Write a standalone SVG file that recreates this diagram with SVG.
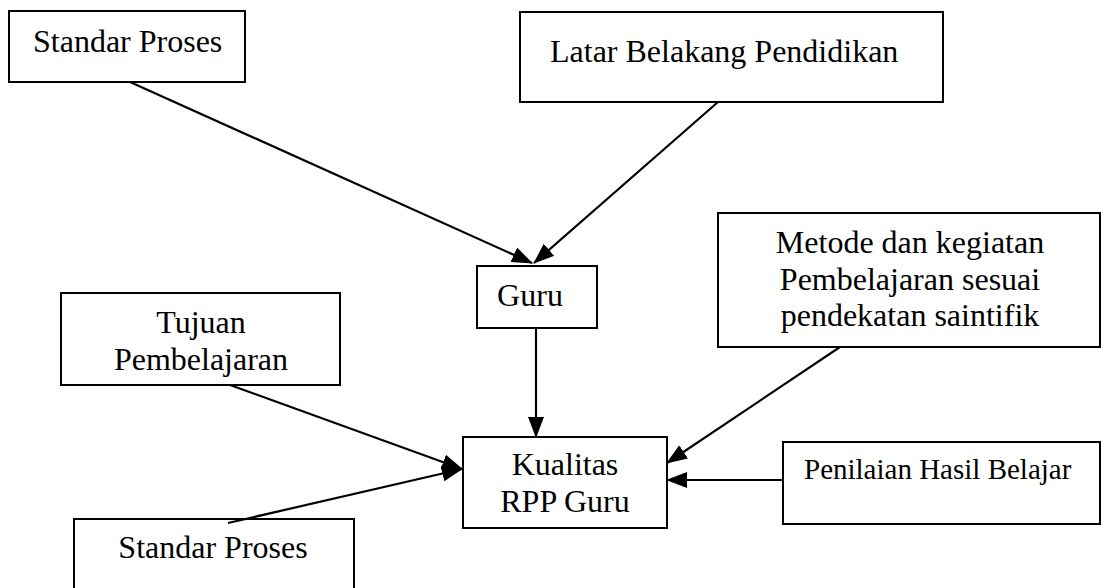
<svg xmlns="http://www.w3.org/2000/svg" width="1101" height="588" viewBox="0 0 1101 588">
<style>
.box{fill:#fff;stroke:#000;stroke-width:2}
.m{text-anchor:middle}
.c{stroke:#000;stroke-width:2.2;fill:none}
</style>
<defs>
<marker id="ah" markerUnits="userSpaceOnUse" markerWidth="22" markerHeight="18" refX="20" refY="9" orient="auto">
<path d="M0,1 L21,9 L0,17 Z" fill="#000"/>
</marker>
</defs>
<rect width="1101" height="588" fill="#fff"/>
<g font-family="Liberation Serif, Times New Roman, serif" font-size="32" fill="#000">
<g id="standar-proses-top"><rect class="box" x="9" y="11" width="236" height="71"/><text x="33" y="52">Standar Proses</text></g>
<g id="latar-belakang"><rect class="box" x="520" y="12" width="423" height="90"/><text x="550" y="62">Latar Belakang Pendidikan</text></g>
<g id="guru"><rect class="box" x="477" y="266" width="120" height="62"/><text class="m" x="530" y="306">Guru</text></g>
<g id="metode"><rect class="box" x="718" y="213" width="382" height="134"/><text class="m" x="910" y="253">Metode dan kegiatan</text><text class="m" x="910" y="290">Pembelajaran sesuai</text><text class="m" x="910" y="326">pendekatan saintifik</text></g>
<g id="tujuan"><rect class="box" x="61" y="293" width="279" height="92"/><text class="m" x="201" y="333">Tujuan</text><text class="m" x="201" y="370">Pembelajaran</text></g>
<g id="kualitas"><rect class="box" x="463" y="437" width="204" height="91"/><text class="m" x="565" y="475">Kualitas</text><text class="m" x="565" y="512">RPP Guru</text></g>
<g id="penilaian"><rect class="box" x="783" y="442" width="317" height="82"/><text font-size="29" x="804" y="479">Penilaian Hasil Belajar</text></g>
<g id="standar-proses-bottom"><rect class="box" x="74" y="519" width="280" height="80"/><text class="m" x="213" y="558">Standar Proses</text></g>
</g>
<g id="connectors" marker-end="url(#ah)">
<line class="c" x1="130" y1="82" x2="532" y2="263" marker-end="url(#ah)"/>
<line class="c" x1="718" y1="102" x2="534" y2="263" marker-end="url(#ah)"/>
<line class="c" x1="536" y1="328" x2="536" y2="437" marker-end="url(#ah)"/>
<line class="c" x1="230" y1="385" x2="462" y2="469" marker-end="url(#ah)"/>
<line class="c" x1="228" y1="523" x2="462" y2="469" marker-end="url(#ah)"/>
<line class="c" x1="840" y1="347" x2="667" y2="463" marker-end="url(#ah)"/>
<line class="c" x1="783" y1="480" x2="667" y2="480" marker-end="url(#ah)"/>
</g>
</svg>
